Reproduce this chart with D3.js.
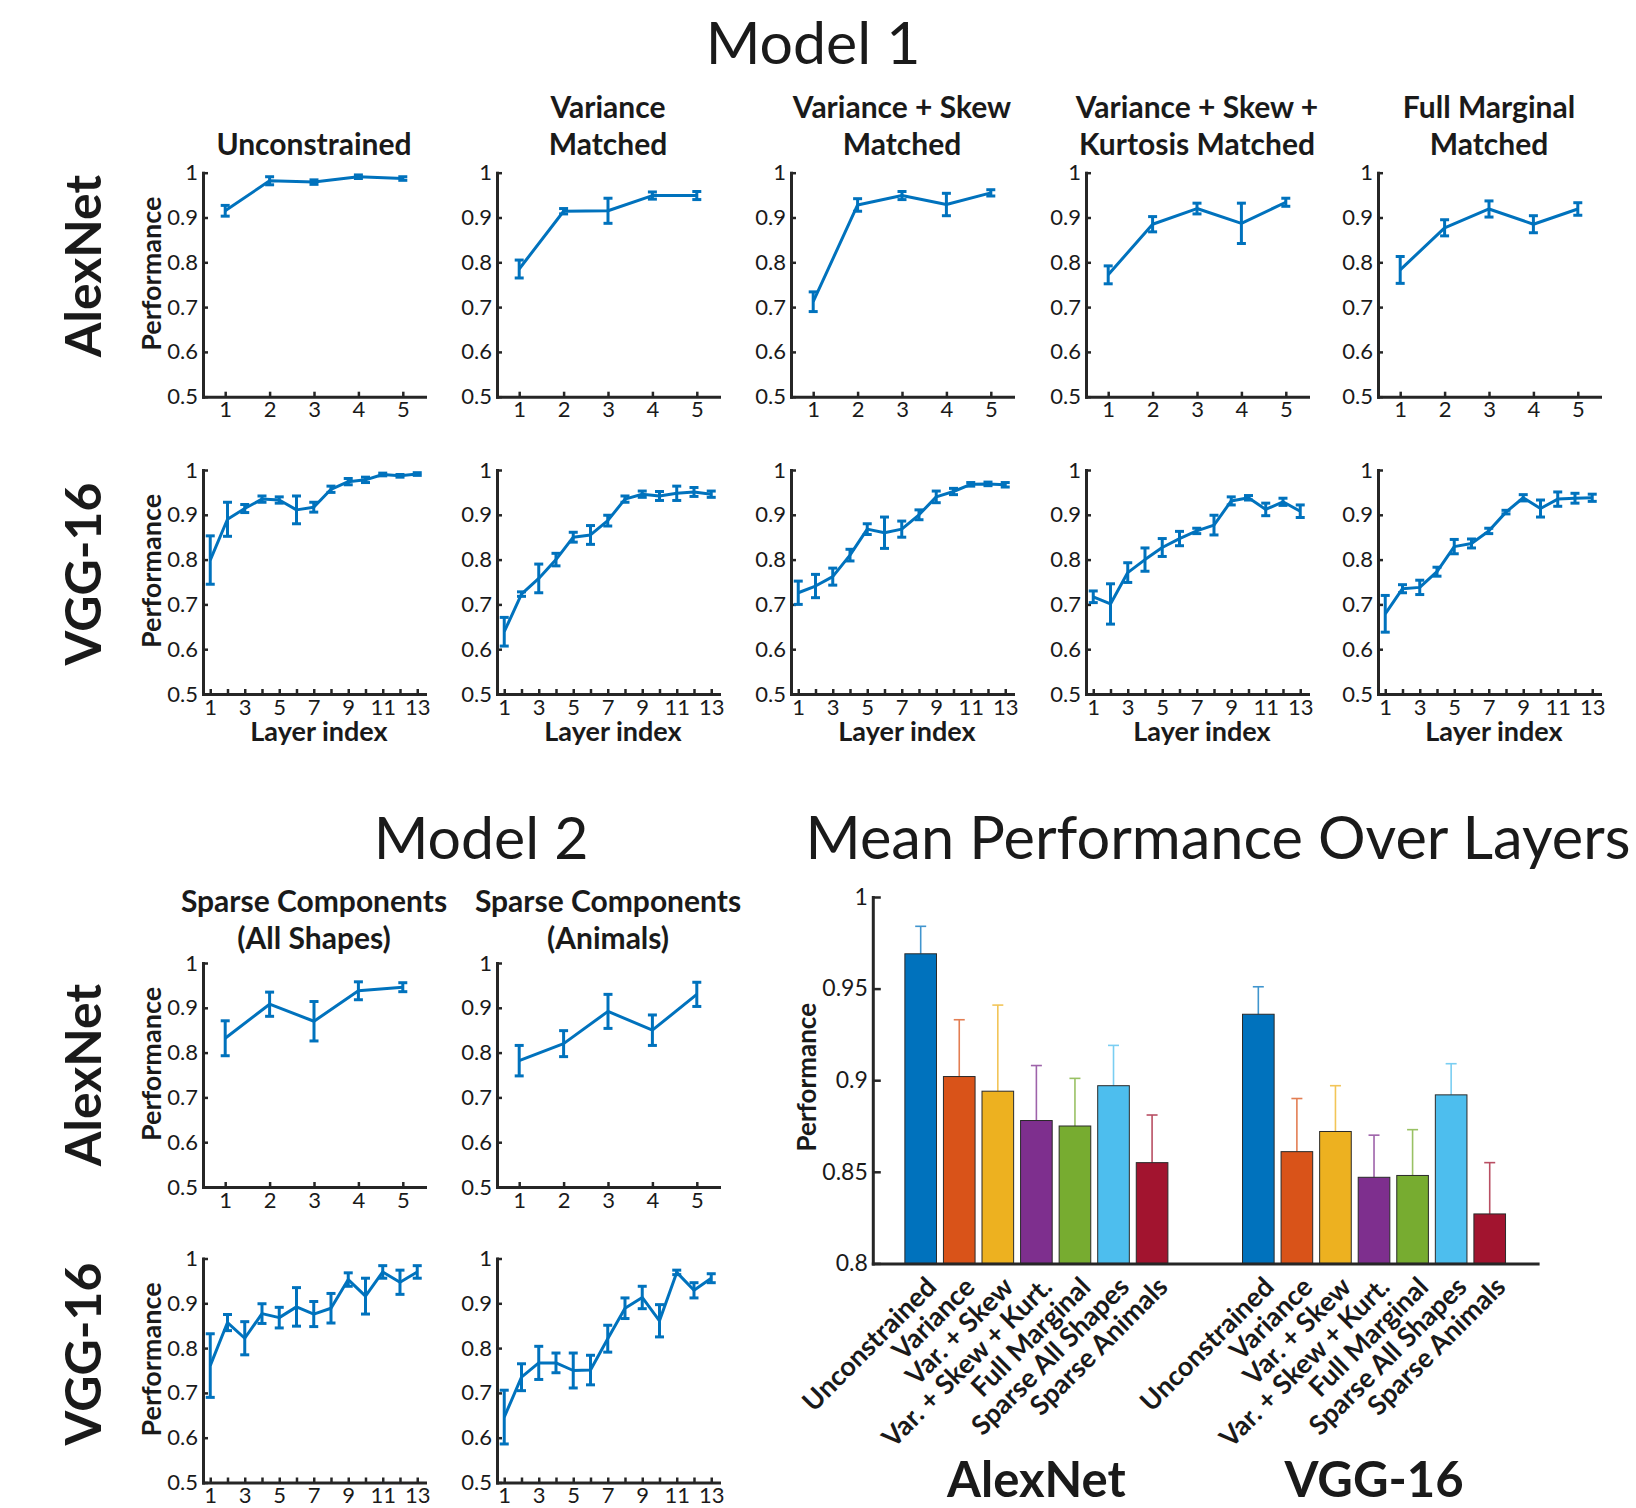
<!DOCTYPE html>
<html>
<head>
<meta charset="utf-8">
<script src="https://cdn.jsdelivr.net/npm/d3@7"></script>
<style>
  body { margin: 0; background: #fff; }
  text { font-family: Lato, "Open Sans", sans-serif; fill: #1a1a1a; }
</style>
</head>
<body>
<script>
// ---- data ----
const alexLayers = [1, 2, 3, 4, 5];
const vggLayers = [1, 2, 3, 4, 5, 6, 7, 8, 9, 10, 11, 12, 13];

// Model 1, AlexNet
const alexUnconstrained = [0.915, 0.982, 0.979, 0.991, 0.987];
const alexUnconstrainedErr = [0.012, 0.009, 0.005, 0.004, 0.004];
const alexVariance = [0.785, 0.914, 0.915, 0.949, 0.949];
const alexVarianceErr = [0.020, 0.006, 0.028, 0.008, 0.009];
const alexSkew = [0.712, 0.928, 0.949, 0.929, 0.955];
const alexSkewErr = [0.022, 0.014, 0.009, 0.025, 0.007];
const alexKurt = [0.772, 0.885, 0.920, 0.887, 0.934];
const alexKurtErr = [0.020, 0.017, 0.012, 0.045, 0.009];
const alexMarginal = [0.783, 0.877, 0.919, 0.885, 0.919];
const alexMarginalErr = [0.030, 0.018, 0.018, 0.019, 0.014];

// Model 1, VGG-16
const vggUnconstrained = [0.799, 0.890, 0.914, 0.935, 0.933, 0.911, 0.917, 0.957, 0.974, 0.978, 0.990, 0.987, 0.991];
const vggUnconstrainedErr = [0.054, 0.038, 0.009, 0.007, 0.007, 0.031, 0.011, 0.007, 0.007, 0.006, 0.003, 0.003, 0.003];
const vggVariance = [0.639, 0.723, 0.758, 0.800, 0.850, 0.855, 0.887, 0.935, 0.946, 0.942, 0.948, 0.951, 0.946];
const vggVarianceErr = [0.032, 0.005, 0.032, 0.014, 0.011, 0.021, 0.012, 0.007, 0.007, 0.010, 0.016, 0.010, 0.007];
const vggSkew = [0.726, 0.741, 0.762, 0.810, 0.868, 0.860, 0.868, 0.900, 0.940, 0.952, 0.968, 0.969, 0.967];
const vggSkewErr = [0.026, 0.026, 0.019, 0.013, 0.012, 0.035, 0.018, 0.011, 0.013, 0.007, 0.004, 0.004, 0.005];
const vggKurt = [0.717, 0.701, 0.771, 0.800, 0.827, 0.847, 0.864, 0.877, 0.931, 0.938, 0.912, 0.929, 0.908];
const vggKurtErr = [0.013, 0.045, 0.022, 0.026, 0.020, 0.016, 0.006, 0.022, 0.009, 0.005, 0.014, 0.008, 0.014];
const vggMarginal = [0.679, 0.735, 0.738, 0.773, 0.829, 0.836, 0.864, 0.906, 0.938, 0.914, 0.935, 0.937, 0.938];
const vggMarginalErr = [0.041, 0.009, 0.016, 0.010, 0.016, 0.010, 0.006, 0.004, 0.007, 0.019, 0.016, 0.011, 0.008];

// Model 2
const alexSparseAll = [0.832, 0.908, 0.870, 0.938, 0.946];
const alexSparseAllErr = [0.039, 0.027, 0.044, 0.020, 0.010];
const alexSparseAnimals = [0.782, 0.820, 0.892, 0.850, 0.930];
const alexSparseAnimalsErr = [0.034, 0.029, 0.038, 0.034, 0.027];
const vggSparseAll = [0.761, 0.857, 0.822, 0.877, 0.868, 0.892, 0.876, 0.889, 0.953, 0.916, 0.970, 0.947, 0.970];
const vggSparseAllErr = [0.071, 0.018, 0.037, 0.022, 0.023, 0.043, 0.028, 0.033, 0.015, 0.040, 0.014, 0.027, 0.014];
const vggSparseAnimals = [0.646, 0.735, 0.767, 0.767, 0.750, 0.751, 0.821, 0.889, 0.913, 0.861, 0.969, 0.929, 0.956];
const vggSparseAnimalsErr = [0.060, 0.030, 0.037, 0.022, 0.039, 0.033, 0.030, 0.023, 0.025, 0.036, 0.005, 0.017, 0.010];

// Mean performance over layers
const barNets = ['AlexNet', 'VGG-16'];
const barCats = ['Unconstrained', 'Variance', 'Var. + Skew', 'Var. + Skew + Kurt.', 'Full Marginal', 'Sparse All Shapes', 'Sparse Animals'];
const barAlexMean = [0.969, 0.902, 0.894, 0.878, 0.875, 0.897, 0.855];
const barAlexErr = [0.015, 0.031, 0.047, 0.030, 0.026, 0.022, 0.026];
const barVggMean = [0.936, 0.861, 0.872, 0.847, 0.848, 0.892, 0.827];
const barVggErr = [0.015, 0.029, 0.025, 0.023, 0.025, 0.017, 0.028];
const barColors = ['#0072BD', '#D95319', '#EDB120', '#7E2F8E', '#77AC30', '#4DBEEE', '#A2142F'];

// ---- layout ----
const W = 1636, H = 1508;
const colLeft = [203, 497, 791, 1086, 1378];
const pw = 222, ph = 224;
const rowTop = [172.7, 470, 963, 1258.5];
const lineColor = '#0072BD';
const axisColor = '#262626';

const svg = d3.select('body').append('svg').attr('width', W).attr('height', H);

function styleAxis(sel, fontSize) {
  sel.attr('font-family', null).attr('font-size', null);
  sel.select('.domain').attr('stroke', axisColor).attr('stroke-width', 3).attr('stroke-linecap', 'square');
  sel.selectAll('.tick line').attr('stroke', axisColor).attr('stroke-width', 2.5);
  sel.selectAll('.tick text').style('font-size', fontSize + 'px').style('fill', '#1a1a1a');
}

function linePanel(col, row, layers, means, errs, opts) {
  const left = colLeft[col], top = rowTop[row];
  const x = d3.scaleLinear()
      .domain(layers.length === 5 ? [0.5, 5.5] : [0.58, 13.45])
      .range([0, pw]);
  const y = d3.scaleLinear().domain([0.5, 1]).range([ph, 0]);
  const g = svg.append('g').attr('transform', `translate(${left},${top})`);

  g.append('g').attr('transform', `translate(0,${ph})`)
      .call(d3.axisBottom(x).tickValues(layers).tickSize(-5).tickSizeOuter(0).tickPadding(5)
          .tickFormat(d => (layers.length > 5 && d % 2 === 0) ? '' : d))
      .call(s => styleAxis(s, 22));
  g.append('g')
      .call(d3.axisLeft(y).tickValues([0.5, 0.6, 0.7, 0.8, 0.9, 1]).tickSize(-5).tickSizeOuter(0).tickPadding(5)
          .tickFormat(d => String(+d.toFixed(1))))
      .call(s => styleAxis(s, 22));

  const pts = layers.map((l, i) => ({l, m: means[i], e: errs[i]}));
  const line = d3.line().x(d => x(d.l)).y(d => y(d.m));
  g.append('path').datum(pts).attr('d', line)
      .attr('fill', 'none').attr('stroke', lineColor).attr('stroke-width', 3)
      .attr('stroke-linejoin', 'round');

  const eb = g.selectAll('g.err').data(pts).enter().append('g').attr('class', 'err')
      .attr('stroke', lineColor).attr('stroke-width', 3);
  eb.append('line').attr('x1', d => x(d.l)).attr('x2', d => x(d.l))
      .attr('y1', d => y(d.m - d.e)).attr('y2', d => y(d.m + d.e));
  eb.append('line').attr('x1', d => x(d.l) - 4.5).attr('x2', d => x(d.l) + 4.5)
      .attr('y1', d => y(d.m - d.e)).attr('y2', d => y(d.m - d.e));
  eb.append('line').attr('x1', d => x(d.l) - 4.5).attr('x2', d => x(d.l) + 4.5)
      .attr('y1', d => y(d.m + d.e)).attr('y2', d => y(d.m + d.e));

  if (opts.ylabel) {
    g.append('text').attr('transform', `translate(-42,${ph / 2 - 11}) rotate(-90)`)
        .attr('text-anchor', 'middle').style('font-weight', 700).style('font-size', '27px')
        .text('Performance');
  }
  if (opts.xlabel) {
    g.append('text').attr('x', pw / 2 + 5).attr('y', ph + 47)
        .attr('text-anchor', 'middle').style('font-weight', 700).style('font-size', '27px')
        .text('Layer index');
  }
  if (opts.title) {
    const n = opts.title.length;
    const base = opts.titleBase || -18;
    opts.title.forEach((t, i) => {
      g.append('text').attr('x', pw / 2).attr('y', base - (n - 1 - i) * 37)
          .attr('text-anchor', 'middle').style('font-weight', 700).style('font-size', '30px')
          .text(t);
    });
  }
}

// Model 1 grid
const m1Titles = [['Unconstrained'], ['Variance', 'Matched'], ['Variance + Skew', 'Matched'],
                  ['Variance + Skew +', 'Kurtosis Matched'], ['Full Marginal', 'Matched']];
const m1Alex = [[alexUnconstrained, alexUnconstrainedErr], [alexVariance, alexVarianceErr],
                [alexSkew, alexSkewErr], [alexKurt, alexKurtErr], [alexMarginal, alexMarginalErr]];
const m1Vgg = [[vggUnconstrained, vggUnconstrainedErr], [vggVariance, vggVarianceErr],
               [vggSkew, vggSkewErr], [vggKurt, vggKurtErr], [vggMarginal, vggMarginalErr]];
m1Alex.forEach((s, c) => linePanel(c, 0, alexLayers, s[0], s[1], {title: m1Titles[c], ylabel: c === 0}));
m1Vgg.forEach((s, c) => linePanel(c, 1, vggLayers, s[0], s[1], {ylabel: c === 0, xlabel: true}));

// Model 2 grid
linePanel(0, 2, alexLayers, alexSparseAll, alexSparseAllErr,
          {title: ['Sparse Components', '(All Shapes)'], titleBase: -14, ylabel: true});
linePanel(1, 2, alexLayers, alexSparseAnimals, alexSparseAnimalsErr,
          {title: ['Sparse Components', '(Animals)'], titleBase: -14});
linePanel(0, 3, vggLayers, vggSparseAll, vggSparseAllErr, {ylabel: true});
linePanel(1, 3, vggLayers, vggSparseAnimals, vggSparseAnimalsErr, {});

// big titles and row labels
function bigText(x, y, t, size, weight, rot) {
  svg.append('text').attr('transform', `translate(${x},${y})` + (rot ? ` rotate(${rot})` : ''))
      .attr('text-anchor', 'middle').style('font-size', size + 'px').style('font-weight', weight)
      .text(t);
}
bigText(813, 64, 'Model 1', 59, 400);
bigText(481, 859, 'Model 2', 59, 400);
bigText(1218, 859, 'Mean Performance Over Layers', 59.5, 400);
[[266, 'AlexNet'], [574, 'VGG-16'], [1075, 'AlexNet'], [1354, 'VGG-16']].forEach(([cy, t]) =>
  bigText(101, cy, t, 50, 700, -90));

// ---- bar chart ----
const bx = 872.8, by = 897, bw = 664.8, bh = 366.4;
const gb = svg.append('g').attr('transform', `translate(${bx},${by})`);
const x0 = d3.scaleBand().domain(barNets).range([0, bw]).paddingInner(0.221).paddingOuter(0.095);
const x1 = d3.scaleBand().domain(barCats).range([0, x0.bandwidth()]).paddingInner(0.18).paddingOuter(0);
const yb = d3.scaleLinear().domain([0.8, 1]).range([bh, 0]);
const colorOf = d3.scaleOrdinal().domain(barCats).range(barColors);

const barData = [
  {net: 'AlexNet', vals: barCats.map((c, i) => ({c, m: barAlexMean[i], e: barAlexErr[i]}))},
  {net: 'VGG-16', vals: barCats.map((c, i) => ({c, m: barVggMean[i], e: barVggErr[i]}))}
];

const groups = gb.selectAll('g.grp').data(barData).enter().append('g').attr('class', 'grp')
    .attr('transform', d => `translate(${x0(d.net)},0)`);

// error bars (upper half only)
const ebs = groups.selectAll('g.eb').data(d => d.vals).enter().append('g').attr('class', 'eb')
    .attr('stroke', d => d3.interpolateRgb(colorOf(d.c), '#ffffff')(0.25)).attr('stroke-width', 1.6);
ebs.append('line').attr('x1', d => x1(d.c) + x1.bandwidth() / 2).attr('x2', d => x1(d.c) + x1.bandwidth() / 2)
    .attr('y1', d => yb(d.m)).attr('y2', d => yb(d.m + d.e));
ebs.append('line').attr('x1', d => x1(d.c) + x1.bandwidth() / 2 - 5.5).attr('x2', d => x1(d.c) + x1.bandwidth() / 2 + 5.5)
    .attr('y1', d => yb(d.m + d.e)).attr('y2', d => yb(d.m + d.e));

groups.selectAll('rect').data(d => d.vals).enter().append('rect')
    .attr('x', d => x1(d.c)).attr('width', x1.bandwidth())
    .attr('y', d => yb(d.m)).attr('height', d => bh - yb(d.m))
    .attr('fill', d => colorOf(d.c)).attr('stroke', '#2a2a2a').attr('stroke-width', 1);

// rotated category labels
groups.selectAll('text.cat').data(d => d.vals).enter().append('text').attr('class', 'cat')
    .attr('transform', d => `translate(${x1(d.c) + x1.bandwidth() / 2 + 3},${bh + 11}) rotate(-45)`)
    .attr('text-anchor', 'end').attr('dy', '0.75em')
    .style('font-weight', 700).style('font-size', '27px')
    .text(d => d.c);

gb.append('g').attr('transform', `translate(0,${bh})`)
    .call(d3.axisBottom(x0).tickSize(0).tickSizeOuter(0).tickFormat(''))
    .call(s => styleAxis(s, 22));
gb.append('g')
    .call(d3.axisLeft(yb).tickValues([0.8, 0.85, 0.9, 0.95, 1]).tickSize(-8).tickSizeOuter(0).tickPadding(5)
        .tickFormat(d => String(+d.toFixed(2))))
    .call(s => styleAxis(s, 23));

gb.append('text').attr('transform', `translate(-57,${bh / 2 - 3}) rotate(-90)`)
    .attr('text-anchor', 'middle').style('font-weight', 700).style('font-size', '26px')
    .text('Performance');

barNets.forEach(n => {
  gb.append('text').attr('x', x0(n) + x0.bandwidth() / 2).attr('y', 600)
      .attr('text-anchor', 'middle').style('font-weight', 700).style('font-size', '49px')
      .text(n);
});
</script>
</body>
</html>
